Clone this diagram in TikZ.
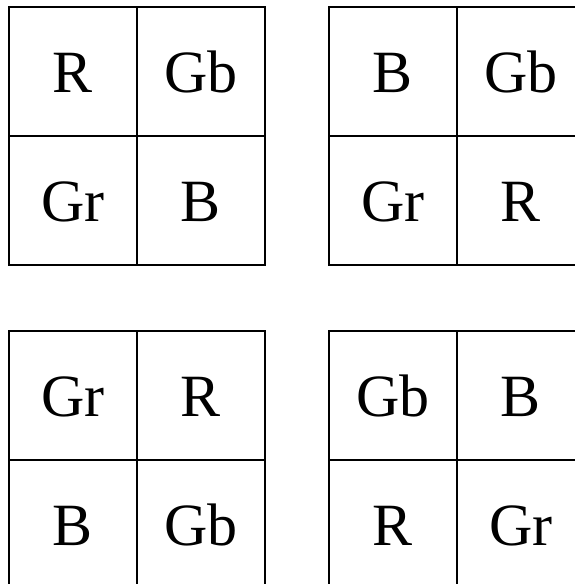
\documentclass[tikz,border=0pt]{standalone}
\usepackage{fontspec}
\setmainfont{Liberation Serif}
\begin{document}
\begin{tikzpicture}[x=1pt,y=-1pt,
  cell/.style={draw,line width=2.2pt,outer sep=0pt,inner sep=0pt,
    minimum width=128pt,minimum height=129pt,anchor=north west,
    font=\fontsize{60}{72}\selectfont,
    text height=42.7pt,text depth=0pt}]
\useasboundingbox (0,0) rectangle (575,584);
\clip (0,0) rectangle (575,584);
% top left
\node[cell] (tl11) at (9,7) {R};
\node[cell] (tl12) at (137,7) {Gb};
\node[cell] (tl21) at (9,136) {Gr};
\node[cell] (tl22) at (137,136) {B};
% top right
\node[cell] (tr11) at (329,7) {B};
\node[cell] (tr12) at (457,7) {Gb};
\node[cell] (tr21) at (329,136) {Gr};
\node[cell] (tr22) at (457,136) {R};
% bottom left
\node[cell] (bl11) at (9,331) {Gr};
\node[cell] (bl12) at (137,331) {R};
\node[cell] (bl21) at (9,460) {B};
\node[cell] (bl22) at (137,460) {Gb};
% bottom right
\node[cell] (br11) at (329,331) {Gb};
\node[cell] (br12) at (457,331) {B};
\node[cell] (br21) at (329,460) {R};
\node[cell] (br22) at (457,460) {Gr};
\end{tikzpicture}
\end{document}
